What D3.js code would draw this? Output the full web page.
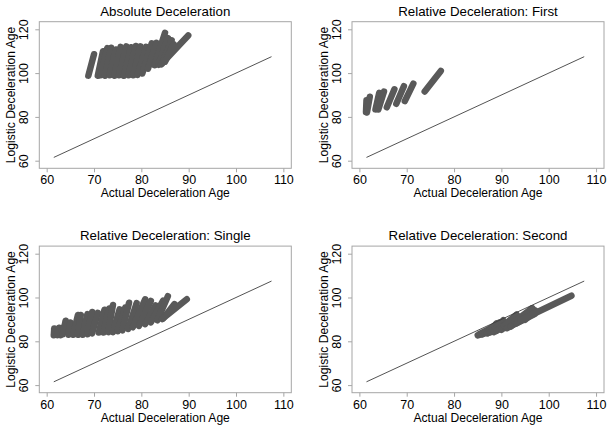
<!DOCTYPE html>
<html>
<head>
<meta charset="utf-8">
<script src="https://cdn.jsdelivr.net/npm/d3@7/dist/d3.min.js"></script>
<style>
html,body{margin:0;padding:0;background:#fff;}
svg{display:block;}
text{font-family:"Liberation Sans",Arial,Helvetica,sans-serif;fill:#000;}
</style>
</head>
<body>
<svg id="chart" width="612" height="432"></svg>
<script>
// ---------- data ----------
const panelTitles = ["Absolute Deceleration", "Relative Deceleration: First",
                     "Relative Deceleration: Single", "Relative Deceleration: Second"];
const xAxisTitle = "Actual Deceleration Age";
const yAxisTitle = "Logistic Deceleration Age";
const xTicks = [60, 70, 80, 90, 100, 110];
const yTicks = [60, 80, 100, 120];
const referenceLine = [61.5, 107.5]; // y = x

// each entry: [actual start, logistic start, actual end, logistic end]
const absoluteSegments = [
  [68.8, 98.8, 70.0, 108.6],
  [70.8, 98.8, 71.9, 110.0],
  [71.4, 99.0, 72.8, 111.4],
  [72.3, 98.8, 73.6, 111.6],
  [73.3, 99.0, 74.6, 110.8],
  [74.3, 98.8, 75.6, 112.0],
  [75.3, 99.0, 76.8, 112.2],
  [76.3, 98.8, 77.8, 111.8],
  [77.3, 99.0, 78.8, 112.4],
  [78.3, 99.0, 79.8, 112.2],
  [79.2, 99.2, 81.0, 112.0],
  [80.2, 99.8, 82.2, 113.6],
  [81.4, 102.0, 83.2, 113.8],
  [82.8, 103.6, 85.0, 118.4],
  [83.6, 103.8, 85.6, 116.0],
  [84.4, 104.4, 86.4, 115.0],
  [85.0, 105.2, 86.8, 113.2],
  [84.2, 104.0, 89.9, 117.2]
];
const firstSegments = [
  [61.4, 82.2, 61.5, 87.6],
  [61.6, 82.0, 62.2, 89.2],
  [63.4, 83.4, 64.2, 91.0],
  [64.0, 83.4, 65.2, 91.6],
  [65.8, 84.4, 67.4, 92.6],
  [67.8, 86.0, 69.4, 94.0],
  [69.6, 87.2, 71.4, 95.2],
  [73.8, 91.6, 77.2, 101.0]
];
const singleSegments = [
  [61.5, 82.8, 61.6, 85.8],
  [62.2, 82.8, 62.6, 86.2],
  [62.9, 82.8, 63.4, 86.2],
  [63.4, 83.2, 64.0, 89.4],
  [64.6, 83.0, 65.0, 88.6],
  [65.6, 83.0, 66.6, 92.0],
  [66.6, 83.0, 67.2, 92.0],
  [67.6, 83.0, 68.6, 92.4],
  [68.6, 83.2, 69.6, 93.4],
  [69.6, 83.6, 70.8, 93.0],
  [71.0, 84.0, 72.2, 94.4],
  [72.0, 84.0, 73.2, 95.0],
  [73.0, 84.2, 74.0, 96.6],
  [74.0, 84.2, 75.4, 94.6],
  [75.0, 84.6, 76.6, 95.4],
  [76.0, 85.0, 77.4, 97.6],
  [77.2, 85.6, 79.0, 97.4],
  [78.2, 86.4, 80.8, 99.2],
  [79.5, 87.0, 82.0, 98.4],
  [80.8, 87.8, 83.0, 96.4],
  [82.0, 88.6, 84.6, 98.6],
  [83.4, 89.6, 85.6, 100.6],
  [84.6, 90.4, 87.0, 97.0],
  [84.4, 90.2, 89.6, 99.2]
];
const secondSegments = [
  [85.0, 82.7, 88.0, 84.6],
  [85.4, 83.4, 88.2, 86.4],
  [86.0, 83.2, 89.6, 88.6],
  [87.0, 83.6, 89.0, 88.2],
  [87.6, 84.0, 90.8, 88.0],
  [88.6, 85.6, 90.4, 89.6],
  [88.4, 84.2, 92.4, 89.0],
  [89.0, 84.8, 93.2, 92.0],
  [90.0, 85.2, 93.6, 91.0],
  [90.6, 87.0, 93.2, 92.2],
  [91.2, 86.0, 95.0, 90.4],
  [92.0, 86.8, 96.6, 95.0],
  [92.8, 89.0, 96.4, 95.0],
  [93.2, 88.2, 97.0, 92.4],
  [95.0, 89.8, 97.2, 94.0],
  [94.0, 89.6, 104.8, 100.8]
];
const panelSegments = [absoluteSegments, firstSegments, singleSegments, secondSegments];

// ---------- layout ----------
const svg = d3.select("#chart");
const boxW = 252, boxH = 146.6;
const boxLefts = [39.3, 352, 39.3, 352];
const boxTops = [21.7, 21.7, 246.1, 246.1];
const xDomain = [58.44, 111.68];
const yDomain = [56.53, 123.47];
const axisGrey = "#a6a6a6";
const markGrey = "#595959";

panelTitles.forEach((title, i) => {
  const L = boxLefts[i], T = boxTops[i];
  const g = svg.append("g");
  const x = d3.scaleLinear().domain(xDomain).range([L, L + boxW]);
  const y = d3.scaleLinear().domain(yDomain).range([T + boxH, T]);

  // plot box
  g.append("rect").attr("x", L).attr("y", T).attr("width", boxW).attr("height", boxH)
    .attr("fill", "none").attr("stroke", axisGrey).attr("stroke-width", 1);

  // x axis
  const xa = g.append("g").attr("transform", `translate(0,${T + boxH})`)
    .call(d3.axisBottom(x).tickValues(xTicks).tickSize(4).tickPadding(3).tickFormat(d3.format("d")));
  xa.select(".domain").remove();
  xa.selectAll("line").attr("stroke", axisGrey);
  xa.selectAll("text").attr("font-size", 12.5).attr("fill", "#000")
    .attr("font-family", "Liberation Sans, Arial, sans-serif");

  // y axis
  const ya = g.append("g").attr("transform", `translate(${L},0)`)
    .call(d3.axisLeft(y).tickValues(yTicks).tickSize(4).tickFormat(d3.format("d")));
  ya.select(".domain").remove();
  ya.selectAll("line").attr("stroke", axisGrey);
  ya.selectAll("text").attr("font-size", 12.5).attr("fill", "#000")
    .attr("font-family", "Liberation Sans, Arial, sans-serif")
    .attr("x", null).attr("dy", null)
    .attr("text-anchor", "middle")
    .attr("transform", "translate(-11,0) rotate(-90)");

  // titles
  g.append("text").attr("x", L + boxW / 2).attr("y", T - 6)
    .attr("text-anchor", "middle").attr("font-size", 13.3).text(title);
  g.append("text").attr("x", L + boxW / 2).attr("y", T + boxH + 29)
    .attr("text-anchor", "middle").attr("font-size", 12.1).text(xAxisTitle);
  g.append("text").attr("transform", `translate(${L - 24.5},${T + boxH / 2}) rotate(-90)`)
    .attr("text-anchor", "middle").attr("font-size", 12.1).text(yAxisTitle);

  // thick data segments
  const line = d3.line().x(d => x(d[0])).y(d => y(d[1]));
  g.append("g").selectAll("path").data(panelSegments[i]).join("path")
    .attr("d", s => line([[s[0], s[1]], [s[2], s[3]]]))
    .attr("fill", "none").attr("stroke", markGrey)
    .attr("stroke-width", 6.5).attr("stroke-linecap", "round");

  // reference y = x line
  g.append("path")
    .attr("d", line([[referenceLine[0], referenceLine[0]], [referenceLine[1], referenceLine[1]]]))
    .attr("fill", "none").attr("stroke", "#404040").attr("stroke-width", 0.9);
});
</script>
</body>
</html>
